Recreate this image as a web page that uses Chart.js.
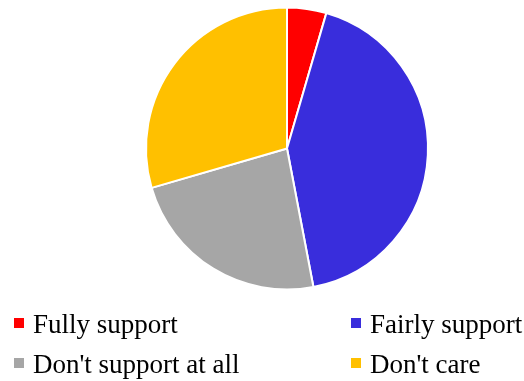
<!DOCTYPE html>
<html>
<head>
<meta charset="utf-8">
<script src="https://cdn.jsdelivr.net/npm/chart.js@4"></script>
<style>
  html, body { margin: 0; padding: 0; background: #ffffff; }
  #wrap { position: relative; width: 524px; height: 381px; }
  #legend { position: absolute; left: 0; top: 0; font-family: "Liberation Serif", "Times New Roman", serif; font-size: 27px; color: #000; }
  .item { position: absolute; white-space: nowrap; line-height: 27px; }
  .box { display: inline-block; width: 10px; height: 10px; margin-right: 9px; vertical-align: 5px; }
</style>
</head>
<body>
<div id="wrap">
  <canvas id="grafico" width="524" height="381"></canvas>
  <div id="legend"></div>
</div>
<script>
// datos del grafico
const categorias = ['Fully support', 'Fairly support', "Don't support at all", "Don't care"];
const valores = [4.5, 42.5, 23.5, 29.5];
const colores = ['#ff0000', '#392ddc', '#a6a6a6', '#ffc000'];

document.addEventListener("DOMContentLoaded", function () {
    var ctx = document.getElementById('grafico').getContext('2d');

    var chart = new Chart(ctx, {
        type: 'pie',
        data: {
            labels: categorias,
            datasets: [{
                data: valores,
                backgroundColor: colores,
                borderColor: '#ffffff',
                borderWidth: 2
            }]
        },
        options: {
            responsive: false,
            animation: false,
            layout: {
                padding: { top: 6, bottom: 90, left: 145, right: 95 }
            },
            plugins: {
                legend: { display: false },
                tooltip: { enabled: false }
            }
        }
    });

    // leyenda en dos columnas, hecha a mano
    const posiciones = [[14, 311], [351, 311], [14, 351], [351, 351]];
    const leyenda = document.getElementById('legend');
    chart.data.labels.forEach((label, i) => {
        const div = document.createElement('div');
        div.className = 'item';
        div.style.left = posiciones[i][0] + 'px';
        div.style.top = posiciones[i][1] + 'px';
        div.innerHTML = '<span class="box" style="background:' + colores[i] + '"></span>' + label;
        leyenda.appendChild(div);
    });
});
</script>
</body>
</html>
